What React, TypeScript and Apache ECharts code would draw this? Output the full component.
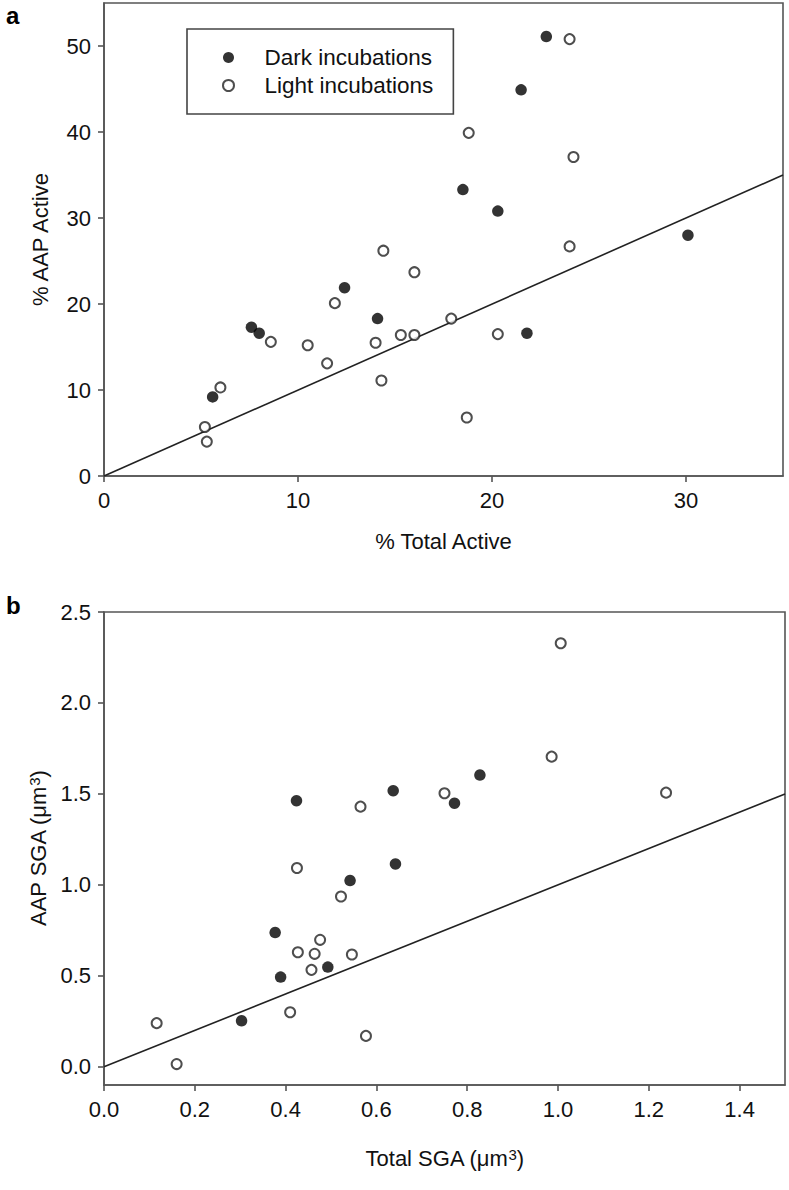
import React, { useEffect, useRef } from "react";
import * as echarts from "echarts";

// Panel a: % Total Active vs % AAP Active
const darkA: number[][] = [
  [22.8, 51.1], [21.5, 44.9], [18.5, 33.3], [20.3, 30.8], [30.1, 28.0],
  [12.4, 21.9], [14.1, 18.3], [7.6, 17.3], [8.0, 16.6], [5.6, 9.2], [21.8, 16.6],
];
const lightA: number[][] = [
  [24.0, 50.8], [18.8, 39.9], [24.2, 37.1], [24.0, 26.7], [14.4, 26.2],
  [16.0, 23.7], [11.9, 20.1], [17.9, 18.3], [8.6, 15.6], [10.5, 15.2],
  [14.0, 15.5], [15.3, 16.4], [16.0, 16.4], [11.5, 13.1], [14.3, 11.1],
  [6.0, 10.3], [5.2, 5.7], [5.3, 4.0], [20.3, 16.5], [18.7, 6.8],
];
// Panel b: Total SGA vs AAP SGA
const darkB: number[][] = [
  [0.424, 1.463], [0.637, 1.518], [0.772, 1.449], [0.828, 1.604], [0.642, 1.115],
  [0.542, 1.024], [0.377, 0.738], [0.493, 0.548], [0.389, 0.493], [0.303, 0.253],
];
const lightB: number[][] = [
  [0.565, 1.43], [0.75, 1.504], [1.006, 2.328], [0.986, 1.705], [1.238, 1.507],
  [0.425, 1.093], [0.522, 0.936], [0.476, 0.698], [0.427, 0.63], [0.464, 0.621],
  [0.546, 0.617], [0.457, 0.533], [0.41, 0.3], [0.116, 0.24], [0.577, 0.17], [0.16, 0.015],
];
const lineA: number[][] = [[0, 0], [35, 35]];
const lineB: number[][] = [[0, 0], [1.5, 1.5]];

const xTicksA = [0, 10, 20, 30];
const yTicksA = [0, 10, 20, 30, 40, 50];
const xTicksB = [0, 0.2, 0.4, 0.6, 0.8, 1.0, 1.2, 1.4];
const yTicksB = [0, 0.5, 1.0, 1.5, 2.0, 2.5];

const FONT = "Liberation Sans, Arial, sans-serif";
const AXIS_COLOR = "#555";
const TEXT_COLOR = "#111";

function axis(extra: any, ticks: number[], fmt: (v: number) => string) {
  return {
    type: "value",
    axisLine: { show: true, onZero: false, lineStyle: { color: AXIS_COLOR, width: 1.6 } },
    axisTick: { show: true, inside: false, length: 6, customValues: ticks, lineStyle: { color: AXIS_COLOR, width: 1.6 } },
    splitLine: { show: false },
    axisLabel: {
      customValues: ticks,
      formatter: (v: number) => fmt(v),
      color: TEXT_COLOR,
      fontSize: 22,
      fontFamily: FONT,
      margin: 13,
    },
    nameLocation: "middle",
    nameTextStyle: { color: TEXT_COLOR, fontSize: 22, fontFamily: FONT },
    ...extra,
  };
}

const supRich = {
  a: { fontSize: 22, fontFamily: FONT, color: TEXT_COLOR },
  s: { fontSize: 15, fontFamily: FONT, color: TEXT_COLOR, verticalAlign: "top" },
};

export default function App() {
  const ref = useRef<HTMLDivElement>(null);
  useEffect(() => {
    document.body.style.margin = "0";
    if (!ref.current) return;
    const chart = echarts.init(ref.current, undefined, { renderer: "svg" });
    const fmtInt = (v: number) => String(Math.round(v));
    const fmt1 = (v: number) => v.toFixed(1);
    const openStyle = { color: "#fff", borderColor: "#222", borderWidth: 2 };
    const darkStyle = { color: "#000", borderColor: "#000", borderWidth: 0 };
    chart.setOption({
      animation: false,
      backgroundColor: "#fff",
      grid: [
        { left: 104, top: 3, width: 679, height: 473, show: true, borderColor: AXIS_COLOR, borderWidth: 1.6 },
        { left: 104, top: 612, width: 681, height: 473, show: true, borderColor: AXIS_COLOR, borderWidth: 1.6 },
      ],
      xAxis: [
        axis({ gridIndex: 0, min: 0, max: 35, name: "% Total Active", nameGap: 54 }, xTicksA, fmtInt),
        axis(
          {
            gridIndex: 1, min: 0, max: 1.5, nameGap: 62,
            name: "{a|Total SGA (μm}{s|3}{a|)}",
            nameTextStyle: { rich: supRich },
          },
          xTicksB, fmt1,
        ),
      ],
      yAxis: [
        axis({ gridIndex: 0, min: 0, max: 55, name: "% AAP Active", nameGap: 53 }, yTicksA, fmtInt),
        axis(
          {
            gridIndex: 1, min: -0.1, max: 2.5, nameGap: 55,
            name: "{a|AAP SGA (μm}{s|3}{a|)}",
            nameTextStyle: { rich: supRich },
          },
          yTicksB, fmt1,
        ),
      ],
      legend: {
        data: ["Dark incubations", "Light incubations"],
        orient: "vertical",
        left: 187,
        top: 29,
        padding: [17, 20, 17, 35],
        itemGap: 5,
        itemWidth: 62,
        itemHeight: 11,
        borderColor: "#444",
        borderWidth: 1.6,
        backgroundColor: "#fff",
        selectedMode: false,
        textStyle: { color: TEXT_COLOR, fontSize: 22.5, fontFamily: FONT },
      },
      graphic: [
        { type: "text", left: 6, top: 3, style: { text: "a", fontSize: 24, fontWeight: "bold", fontFamily: FONT, fill: "#000" } },
        { type: "text", left: 6, top: 593, style: { text: "b", fontSize: 24, fontWeight: "bold", fontFamily: FONT, fill: "#000" } },
      ],
      series: [
        { type: "line", xAxisIndex: 0, yAxisIndex: 0, data: lineA, showSymbol: false, z: 1, lineStyle: { color: "#222", width: 1.6 }, silent: true },
        { type: "line", xAxisIndex: 1, yAxisIndex: 1, data: lineB, showSymbol: false, z: 1, lineStyle: { color: "#222", width: 1.6 }, silent: true },
        { name: "Light incubations", type: "scatter", xAxisIndex: 0, yAxisIndex: 0, data: lightA, symbol: "circle", symbolSize: 10, itemStyle: openStyle, z: 3 },
        { name: "Dark incubations", type: "scatter", xAxisIndex: 0, yAxisIndex: 0, data: darkA, symbol: "circle", symbolSize: 11.5, itemStyle: darkStyle, z: 4 },
        { name: "Light incubations", type: "scatter", xAxisIndex: 1, yAxisIndex: 1, data: lightB, symbol: "circle", symbolSize: 10, itemStyle: openStyle, z: 3 },
        { name: "Dark incubations", type: "scatter", xAxisIndex: 1, yAxisIndex: 1, data: darkB, symbol: "circle", symbolSize: 11.5, itemStyle: darkStyle, z: 4 },
      ],
    });
    return () => chart.dispose();
  }, []);
  return <div ref={ref} style={{ width: 789, height: 1190 }} />;
}
